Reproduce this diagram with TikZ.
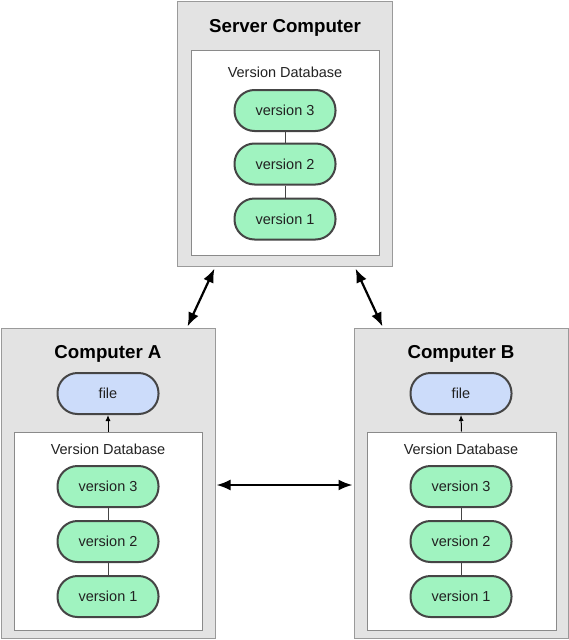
\documentclass[tikz,border=0pt]{standalone}
\usepackage{fontspec}
\setmainfont{Liberation Sans}
\usetikzlibrary{arrows.meta}
\definecolor{boxgray}{HTML}{E3E3E3}
\definecolor{boxedge}{HTML}{9A9A9A}
\definecolor{inedge}{HTML}{8A8A8A}
\definecolor{pillgreen}{HTML}{A0F3C0}
\definecolor{pillblue}{HTML}{CCDCFA}
\definecolor{pilledge}{HTML}{454545}
\definecolor{txt}{HTML}{222222}
\tikzset{
  outerbox/.style={draw=boxedge, fill=boxgray, line width=1pt, inner sep=0pt},
  innerbox/.style={draw=inedge, fill=white, line width=1pt, inner sep=0pt},
  pill/.style={draw=pilledge, line width=2pt, rounded corners=20pt, minimum width=101pt, minimum height=41pt, inner sep=0pt, fill=pillgreen, font=\fontsize{14.5}{16}\selectfont, text=txt},
  filepill/.style={pill, fill=pillblue},
  title/.style={font=\bfseries\fontsize{18.7}{21}\selectfont, anchor=base, inner sep=0pt},
  dblabel/.style={font=\fontsize{14.5}{16}\selectfont, text=txt, anchor=base, inner sep=0pt},
  link/.style={draw=pilledge, line width=1pt},
  bigarrow/.style={line width=2.2pt, {Latex[length=14pt,width=11pt]}-{Latex[length=14pt,width=11pt]}},
  smallarrow/.style={line width=1pt, -{Latex[length=6pt,width=5pt]}}
}
\begin{document}
\begin{tikzpicture}[x=1pt,y=-1pt]
\useasboundingbox (0,0) rectangle (569,640);
% Server
\node[outerbox, minimum width=215pt, minimum height=265pt] (srv) at (284.5,133.5) {};
\node[title] (srvt) at (285,32) {Server Computer};
\node[innerbox, minimum width=188pt, minimum height=205pt] (srvdb) at (285,152.5) {};
\node[dblabel] (srvdbl) at (285,77) {Version Database};
\node[pill] (s3) at (285,110.5) {version 3};
\node[pill] (s2) at (285,164) {version 2};
\node[pill] (s1) at (285,219) {version 1};
\draw[link] (s3.south) -- (s2.north);
\draw[link] (s2.south) -- (s1.north);
% Computer A
\node[outerbox, minimum width=214pt, minimum height=310pt] (ca) at (108,483) {};
\node[title] (cat) at (108,358) {Computer A};
\node[filepill] (fa) at (108,393.5) {file};
\node[innerbox, minimum width=188pt, minimum height=198pt] (adb) at (108,531) {};
\node[dblabel] (adbl) at (108,454) {Version Database};
\node[pill] (a3) at (108,486.5) {version 3};
\node[pill] (a2) at (108,541.5) {version 2};
\node[pill] (a1) at (108,596.5) {version 1};
\draw[link] (a3.south) -- (a2.north);
\draw[link] (a2.south) -- (a1.north);
\draw[smallarrow] (adb.north) -- (fa.south);
% Computer B
\node[outerbox, minimum width=214pt, minimum height=310pt] (cb) at (461,483) {};
\node[title] (cbt) at (461,358) {Computer B};
\node[filepill] (fb) at (461,393.5) {file};
\node[innerbox, minimum width=189pt, minimum height=198pt] (bdb) at (461.5,531) {};
\node[dblabel] (bdbl) at (461,454) {Version Database};
\node[pill] (b3) at (461,486.5) {version 3};
\node[pill] (b2) at (461,541.5) {version 2};
\node[pill] (b1) at (461,596.5) {version 1};
\draw[link] (b3.south) -- (b2.north);
\draw[link] (b2.south) -- (b1.north);
\draw[smallarrow] (bdb.north) -- (fb.south);
% Connectors
\draw[bigarrow] ([xshift=38pt,yshift=-2pt]srv.south west) -- ([xshift=-28pt,yshift=1pt]ca.north east);
\draw[bigarrow] ([xshift=-37pt,yshift=-2pt]srv.south east) -- ([xshift=29pt,yshift=1pt]cb.north west);
\draw[bigarrow] ([xshift=1pt,yshift=-2pt]ca.east) -- ([xshift=-1pt,yshift=-2pt]cb.west);
\end{tikzpicture}
\end{document}
